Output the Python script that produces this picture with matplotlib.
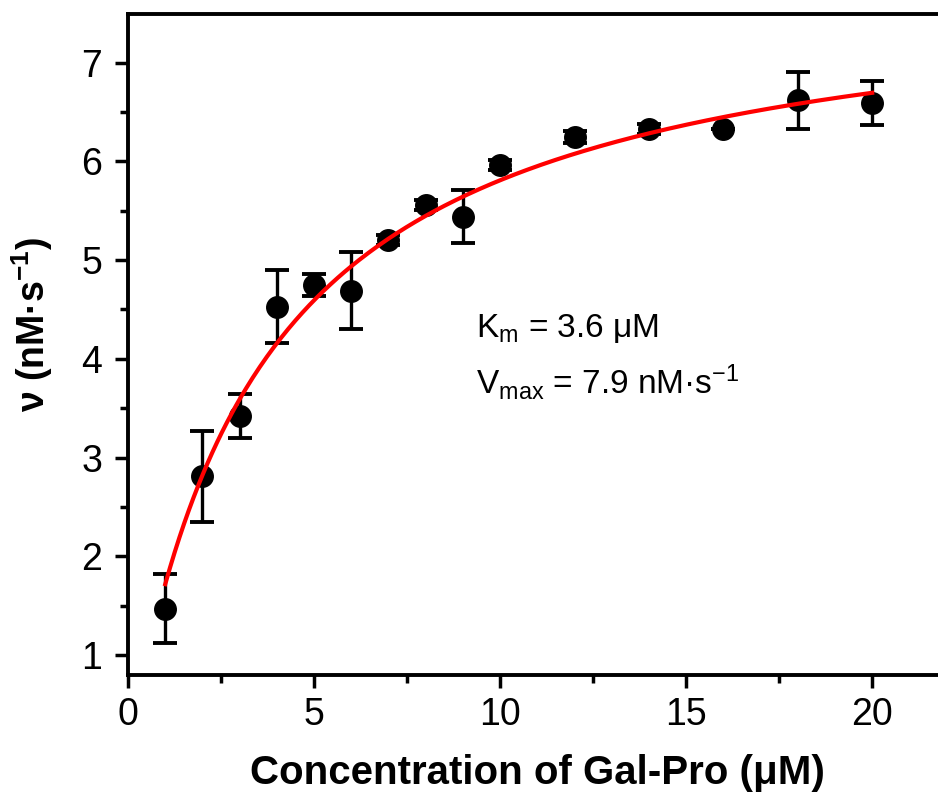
import numpy as np
import matplotlib
matplotlib.use("Agg")
import matplotlib.pyplot as plt
from matplotlib.ticker import MultipleLocator

plt.rcParams["font.family"] = ["Liberation Sans", "DejaVu Sans"]
plt.rcParams["mathtext.fontset"] = "custom"
plt.rcParams["mathtext.rm"] = "Liberation Sans"
plt.rcParams["mathtext.bf"] = "Liberation Sans:bold"
plt.rcParams["mathtext.default"] = "rm"

# Measured rates vs substrate concentration
conc = [1, 2, 3, 4, 5, 6, 7, 8, 9, 10, 12, 14, 16, 18, 20]
rate = [1.47, 2.81, 3.42, 4.53, 4.75, 4.69, 5.20, 5.56, 5.44, 5.96, 6.25, 6.33, 6.33, 6.62, 6.59]
rate_err = [0.35, 0.46, 0.22, 0.37, 0.11, 0.39, 0.05, 0.05, 0.27, 0.05, 0.06, 0.05, 0.0, 0.29, 0.22]

# Michaelis-Menten fit parameters (from annotation)
km = 3.6
vmax = 7.9

fig = plt.figure(figsize=(9.38, 7.92), dpi=100)
ax = fig.add_axes([0.1365, 0.1477, 0.8635, 0.8346])

ax.errorbar(conc, rate, yerr=rate_err, fmt='o', color='black', markersize=15.5,
            elinewidth=2.4, capsize=8.5, capthick=2.8, zorder=3)

x_fit = np.linspace(conc[0], conc[-1], 300)
ax.plot(x_fit, vmax * x_fit / (km + x_fit), color='red', linewidth=3, zorder=4)

# fit result annotation
ax.text(9.35, 4.22, r'K$_{\mathrm{m}}$ = 3.6 μM', fontsize=24, va='baseline')
ax.text(9.35, 3.65, r'V$_{\mathrm{max}}$ = 7.9 nM·s$^{\mathrm{-1}}$', fontsize=24,
        va='baseline')

ax.set_xlim(0, 21.77)
ax.set_ylim(0.797, 7.493)
ax.xaxis.set_major_locator(MultipleLocator(5))
ax.xaxis.set_minor_locator(MultipleLocator(2.5))
ax.yaxis.set_major_locator(MultipleLocator(1))
ax.yaxis.set_minor_locator(MultipleLocator(0.5))

ax.tick_params(which='major', direction='out', length=9.5, width=2.5, labelsize=27)
ax.tick_params(axis='x', which='major', pad=6)
ax.tick_params(axis='y', which='major', pad=9)
ax.tick_params(which='minor', direction='out', length=5.5, width=2.5)
ax.tick_params(axis='y', which='both', right=False)
ax.tick_params(axis='x', which='both', top=False)

for side in ['top', 'left', 'bottom']:
    ax.spines[side].set_linewidth(2.8)
ax.spines['right'].set_visible(False)

ax.set_xlabel('Concentration of Gal-Pro (μM)', fontsize=29, fontweight='bold')
ax.set_ylabel(r'ν (nM·s$^{\mathbf{-1}}$)', fontsize=27, fontweight='bold')
ax.xaxis.set_label_coords(0.506, -0.119)
ax.yaxis.set_label_coords(-0.09, 0.53)

fig.savefig('out.png', dpi=100)
